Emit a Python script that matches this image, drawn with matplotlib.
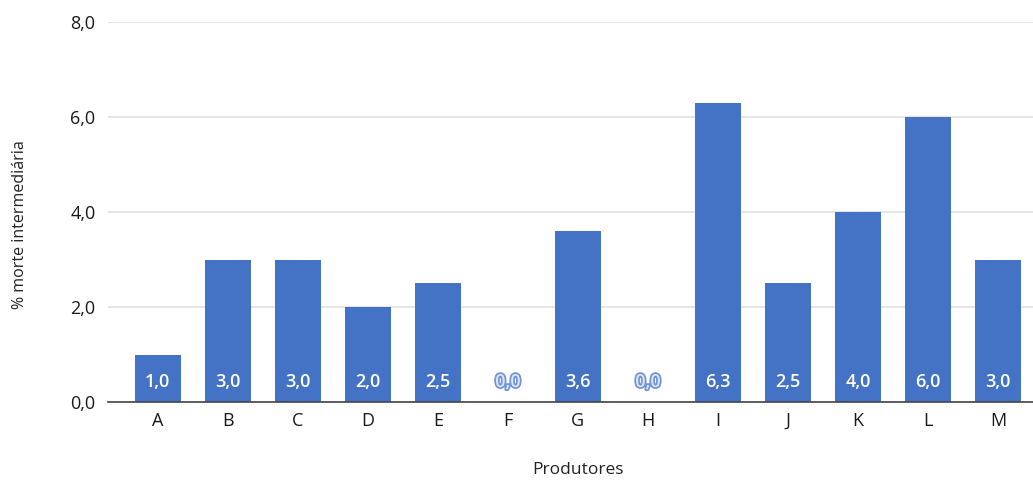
import matplotlib.pyplot as plt
import matplotlib.patheffects as pe
import numpy as np

produtores = ['A', 'B', 'C', 'D', 'E', 'F', 'G', 'H', 'I', 'J', 'K', 'L', 'M']
morte = [1.0, 3.0, 3.0, 2.0, 2.5, 0.0, 3.6, 0.0, 6.3, 2.5, 4.0, 6.0, 3.0]
yticks = [0, 2, 4, 6, 8]

plt.rcParams['font.family'] = ['Open Sans', 'DejaVu Sans']

fig = plt.figure(figsize=(10.33, 4.8), dpi=100)
ax = fig.add_axes([108 / 1033, 78 / 480, 1 - 108 / 1033, 380 / 480])

x = np.arange(len(produtores))
bars = ax.bar(x, morte, width=0.66, color='#4472C4', zorder=3)

for xi, v in zip(x, morte):
    txt = f'{v:.1f}'.replace('.', ',')
    if v > 0:
        ax.text(xi, 0.42, txt, ha='center', va='center', color='white',
                fontsize=13, fontweight='semibold', zorder=4)
    else:
        ax.text(xi, 0.42, txt, ha='center', va='center', color='#dbe4f5',
                fontsize=13, fontweight='semibold', zorder=4,
                path_effects=[pe.withStroke(linewidth=2.5, foreground='#7094d8')])

ax.set_xlim(-0.71, 12.5)
ax.set_ylim(0, 8)
ax.set_xticks(x)
ax.set_xticklabels(produtores)
ax.set_yticks(yticks)
ax.set_yticklabels([f'{t:.1f}'.replace('.', ',') for t in yticks])
ax.tick_params(length=0, labelsize=13, colors='#1a1a1a')
ax.tick_params(axis='y', pad=9)
ax.tick_params(axis='x', pad=7)

ax.grid(axis='y', color='#e0e0e0', linewidth=1.2, zorder=0)
for s in ['top', 'right', 'left']:
    ax.spines[s].set_visible(False)
ax.spines['bottom'].set_color('#444444')
ax.spines['bottom'].set_linewidth(1.2)
ax.spines['bottom'].set_zorder(5)

fig.text(20 / 1033, 1 - 225 / 480, '% morte intermediária', rotation=90,
         ha='center', va='center', fontsize=11.5, color='#222222')
fig.text(578 / 1033, 1 - 470 / 480, 'Produtores', ha='center', va='center',
         fontsize=12.5, color='#222222')

fig.savefig('out.png', dpi=100, facecolor='white')
